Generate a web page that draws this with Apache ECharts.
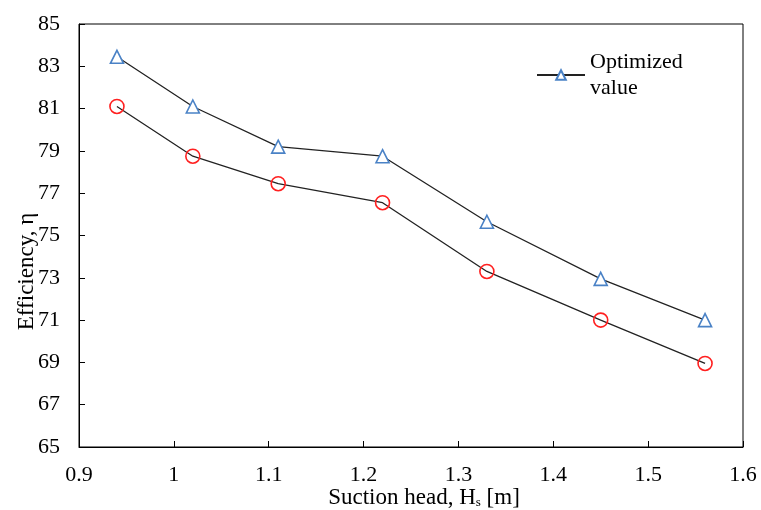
<!DOCTYPE html>
<html>
<head>
<meta charset="utf-8">
<script src="https://cdn.jsdelivr.net/npm/echarts@6/dist/echarts.min.js"></script>
<style>
  html, body { margin: 0; padding: 0; background: #fff; }
  #chart { width: 761px; height: 510px; }
</style>
</head>
<body>
<div id="chart"></div>
<script>
// suction head values (m)
const suctionHead = [0.94, 1.02, 1.11, 1.22, 1.33, 1.45, 1.56];
// efficiency, optimized (triangles)
const optimized = [83.45, 81.1, 79.2, 78.75, 75.65, 72.95, 71.0];
// efficiency, original (circles)
const original = [81.1, 78.75, 77.45, 76.55, 73.3, 71.0, 68.95];

const font = "'Liberation Serif', 'DejaVu Serif', serif";

const myChart = echarts.init(document.getElementById("chart"));

const pairs = (ys) => suctionHead.map((x, i) => [x, ys[i]]);

myChart.setOption({
  animation: false,
  textStyle: { fontFamily: font },
  grid: {
    left: 79,
    right: 18,
    top: 24,
    bottom: 63,
    outerBoundsMode: "none",
    containLabel: false,
    show: true,
    borderColor: "#000",
    borderWidth: 1
  },
  legend: {
    data: ["Optimized\nvalue"],
    left: 531,
    top: 31,
    itemWidth: 48,
    itemHeight: 12,
    textStyle: {
      fontFamily: font,
      fontSize: 22,
      color: "#000",
      lineHeight: 26,
      padding: [26, 0, 0, 0]
    }
  },
  xAxis: {
    type: "value",
    min: 0.9,
    max: 1.6,
    interval: 0.1,
    name: "Suction head, H{sub|s} [m]",
    nameLocation: "middle",
    nameMoveOverlap: false,
    nameGap: 39,
    nameTextStyle: {
      fontFamily: font,
      fontSize: 23,
      color: "#000",
      padding: [0, 0, 0, 26],
      rich: {
        sub: { fontFamily: font, fontSize: 13, color: "#000", padding: [10, 0, 0, 0] }
      }
    },
    axisLine: { lineStyle: { color: "#000", width: 1 } },
    axisTick: { inside: true, length: 6, lineStyle: { color: "#000" } },
    axisLabel: {
      fontFamily: font,
      fontSize: 22,
      color: "#000",
      margin: 17,
      formatter: (v) => String(Math.round(v * 10) / 10)
    },
    splitLine: { show: false }
  },
  yAxis: {
    type: "value",
    min: 65,
    max: 85,
    interval: 2,
    name: "Efficiency, η",
    nameLocation: "middle",
    nameMoveOverlap: false,
    nameGap: 41,
    nameTextStyle: {
      fontFamily: font,
      fontSize: 23,
      color: "#000",
      padding: [0, 72, 0, 0]
    },
    axisLine: { show: true, lineStyle: { color: "#000", width: 1 } },
    axisTick: { show: true, inside: true, length: 6, lineStyle: { color: "#000" } },
    axisLabel: { fontFamily: font, fontSize: 22, color: "#000", margin: 19 },
    splitLine: { show: false }
  },
  series: [
    {
      name: "Optimized\nvalue",
      type: "line",
      data: pairs(optimized),
      symbol: "triangle",
      symbolSize: 13,
      showSymbol: true,
      lineStyle: { color: "#222", width: 1.3 },
      itemStyle: { color: "#fff", borderColor: "#4a82c6", borderWidth: 1.6 },
      z: 3
    },
    {
      name: "Original",
      type: "line",
      data: pairs(original),
      symbol: "circle",
      symbolSize: 14,
      showSymbol: true,
      lineStyle: { color: "#222", width: 1.3 },
      itemStyle: { color: "rgba(255,255,255,0)", borderColor: "#ff2020", borderWidth: 1.6 },
      z: 3
    }
  ]
});

window.addEventListener("resize", () => {
  myChart.resize();
});
</script>
</body>
</html>
